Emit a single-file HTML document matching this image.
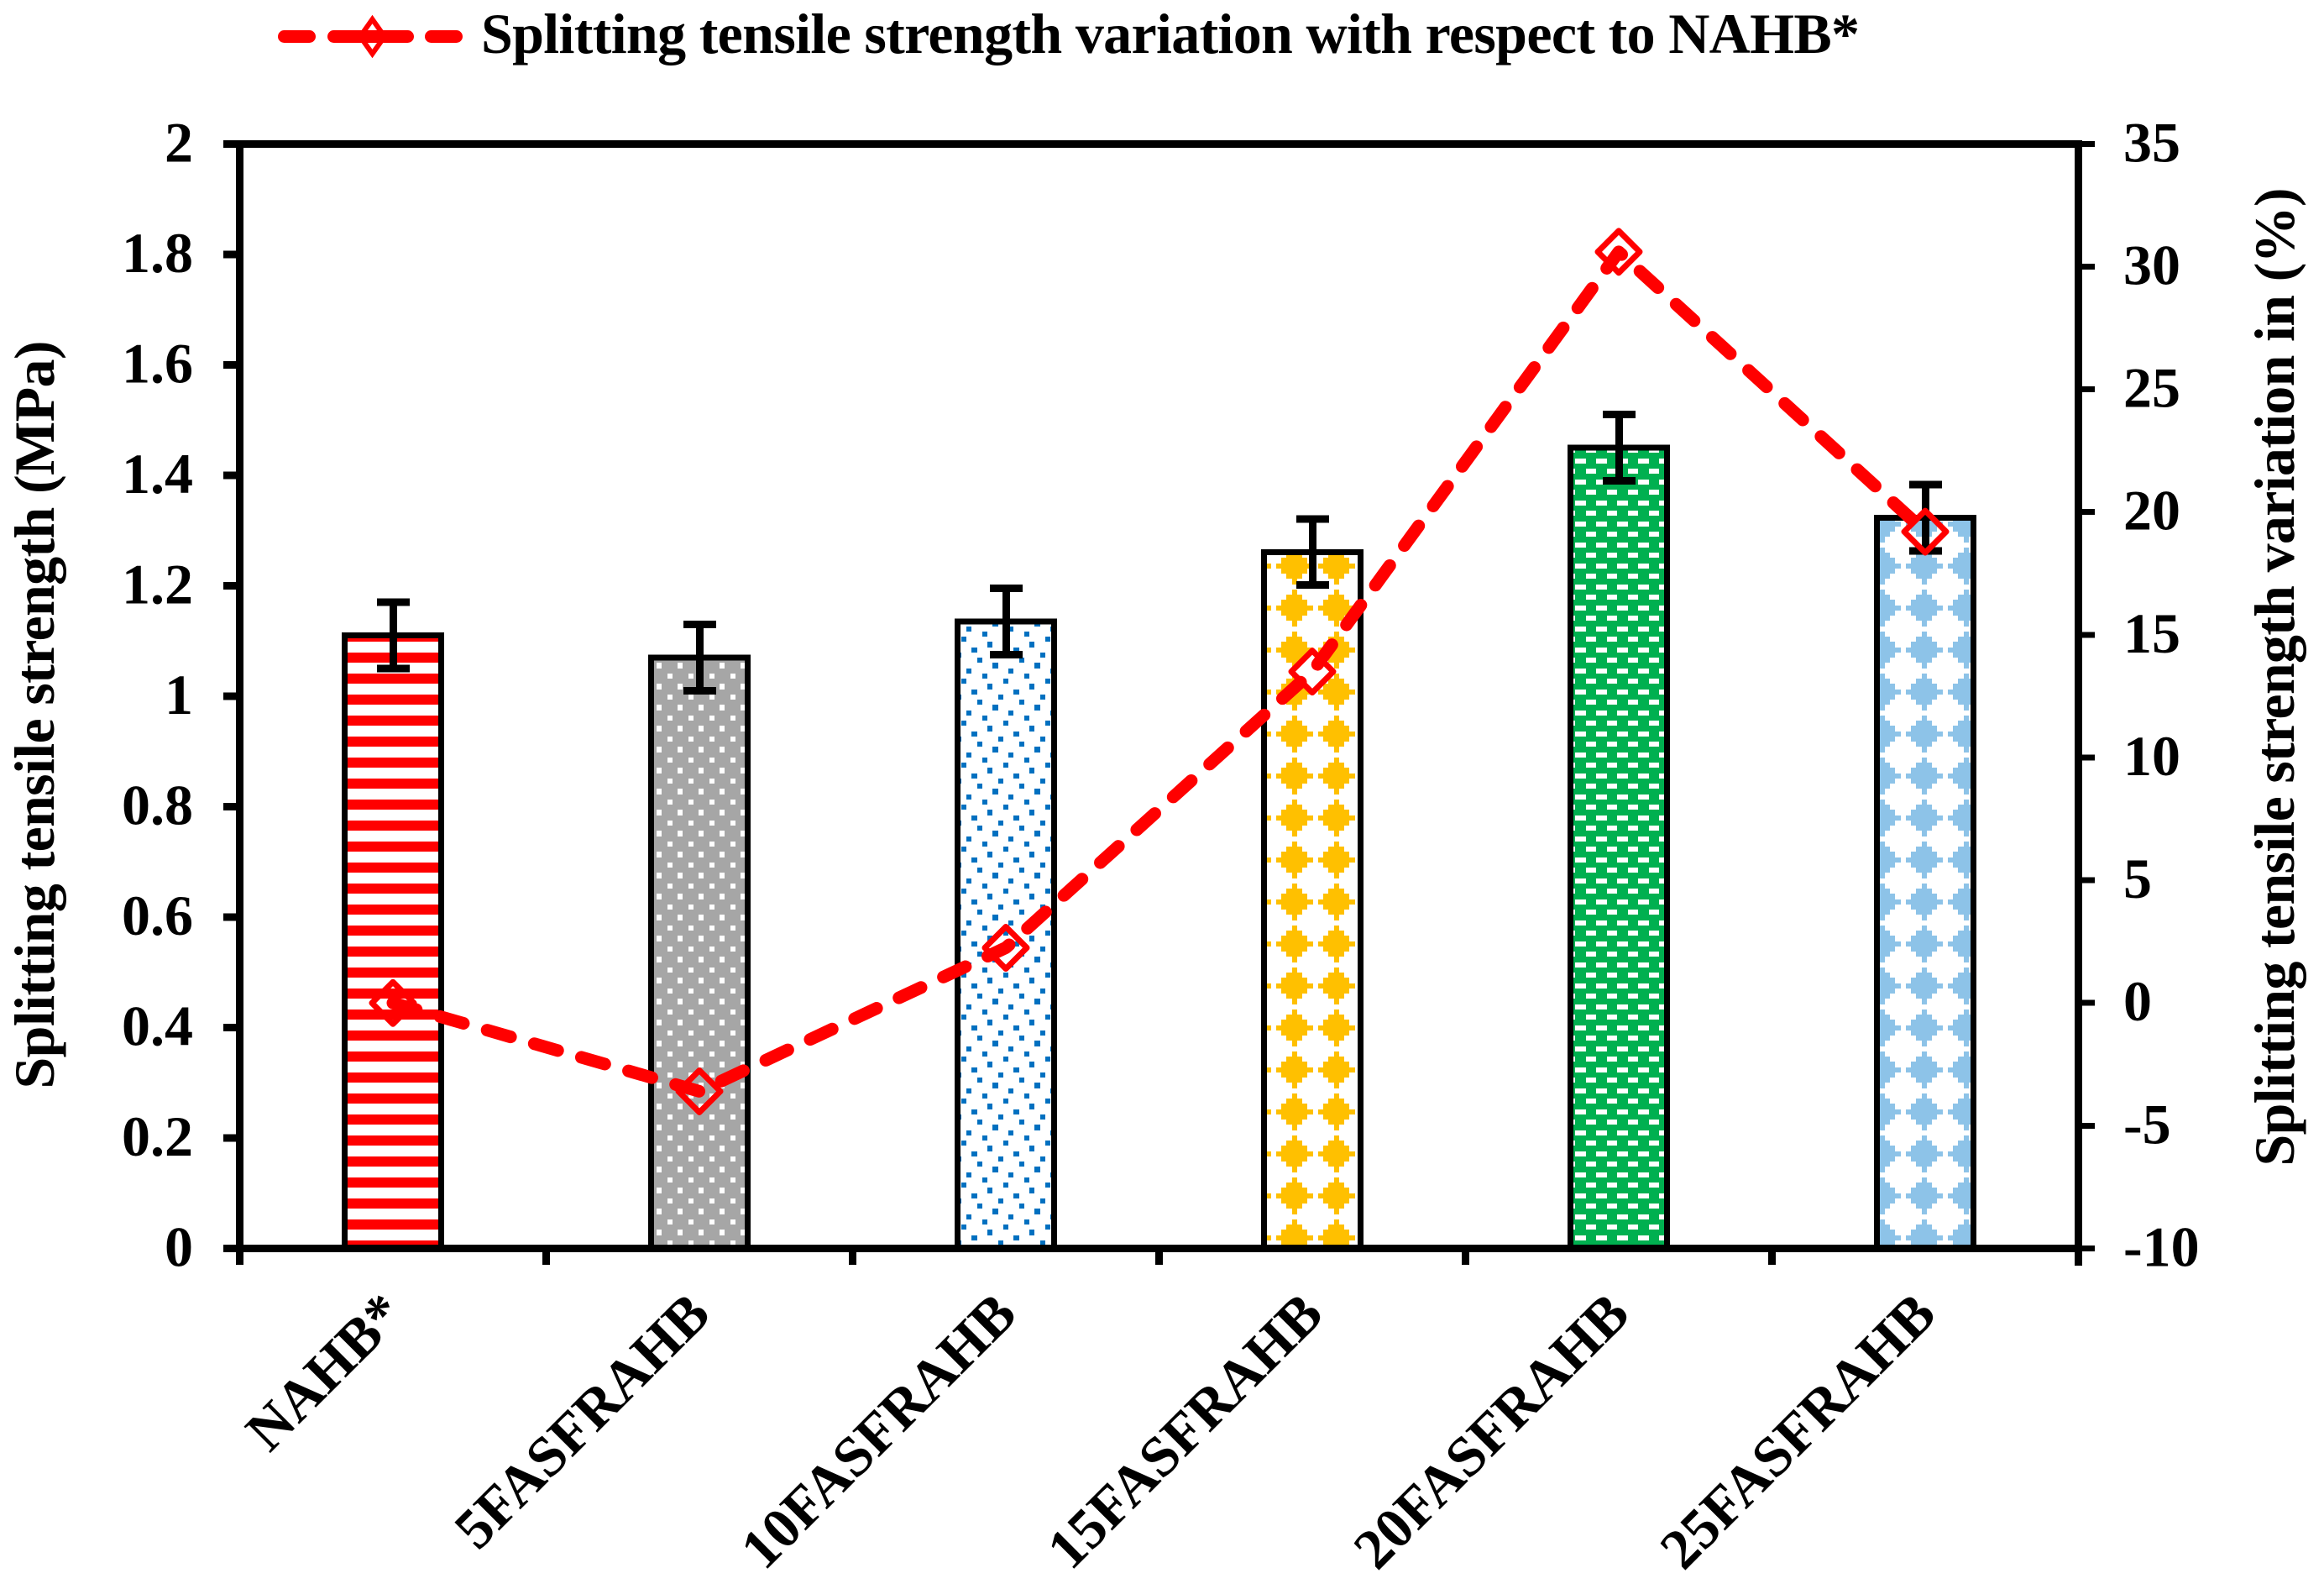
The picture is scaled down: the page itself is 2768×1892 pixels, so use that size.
<!DOCTYPE html>
<html lang="en">
<head>
<meta charset="utf-8">
<title>Splitting tensile strength chart</title>
<style>
html,body{margin:0;padding:0;background:#fff;width:2768px;height:1892px;overflow:hidden}
svg{display:block}
text{font-family:"Liberation Serif","Times New Roman",serif;font-weight:bold;fill:#000}
</style>
</head>
<body>
<svg id="chart" xmlns="http://www.w3.org/2000/svg" width="2768" height="1892" viewBox="0 0 2768 1892">
  <defs>
    <pattern id="p-red" patternUnits="userSpaceOnUse" width="25" height="25">
      <rect width="25" height="25" fill="#fff"/>
      <rect x="0" y="2" width="25" height="12" fill="#ff0000" shape-rendering="crispEdges"/>
    </pattern>
    <pattern id="p-gray" patternUnits="userSpaceOnUse" width="25" height="25">
      <g shape-rendering="crispEdges">
      <rect width="25" height="25" fill="#a6a6a6"/>
      <rect x="20" y="2" width="5" height="6" fill="#fff"/>
      <rect x="0" y="2" width="1" height="6" fill="#fff"/>
      <rect x="7" y="14" width="6" height="7" fill="#fff"/>
      </g>
    </pattern>
    <pattern id="p-blue" patternUnits="userSpaceOnUse" width="50" height="50">
      <g shape-rendering="crispEdges" fill="#0070c0">
      <rect x="1" y="46" width="6" height="4"/><rect x="1" y="0" width="6" height="2"/>
      <rect x="20" y="2" width="6" height="6"/>
      <rect x="45" y="8" width="5" height="6"/><rect x="0" y="8" width="1" height="6"/>
      <rect x="26" y="14" width="6" height="7"/>
      <rect x="7" y="21" width="7" height="6"/>
      <rect x="39" y="27" width="6" height="6"/>
      <rect x="14" y="33" width="6" height="6"/>
      <rect x="32" y="39" width="7" height="7"/>
      </g>
    </pattern>
    <pattern id="p-gold" patternUnits="userSpaceOnUse" width="50" height="50">
      <g shape-rendering="crispEdges" fill="#ffc000">
      <rect x="39" y="2" width="6" height="6"/>
      <rect x="32" y="8" width="18" height="6"/><rect x="0" y="8" width="1" height="6"/>
      <rect x="26" y="14" width="24" height="7"/><rect x="0" y="14" width="7" height="7"/>
      <rect x="20" y="21" width="30" height="6"/><rect x="0" y="21" width="14" height="6"/>
      <rect x="26" y="27" width="24" height="6"/><rect x="0" y="27" width="7" height="6"/>
      <rect x="32" y="33" width="18" height="6"/><rect x="0" y="33" width="1" height="6"/>
      <rect x="39" y="39" width="6" height="7"/>
      </g>
    </pattern>
    <pattern id="p-green" patternUnits="userSpaceOnUse" width="25" height="25">
      <g shape-rendering="crispEdges">
      <rect width="25" height="25" fill="#00b050"/>
      <rect x="1" y="21" width="13" height="4" fill="#fff"/>
      <rect x="1" y="0" width="13" height="2" fill="#fff"/>
      <rect x="14" y="8" width="11" height="6" fill="#fff"/>
      <rect x="0" y="8" width="1" height="6" fill="#fff"/>
      </g>
    </pattern>
    <pattern id="p-sky" patternUnits="userSpaceOnUse" width="50" height="50">
      <g shape-rendering="crispEdges" fill="#8dc3e8">
      <rect x="39" y="2" width="6" height="6"/>
      <rect x="32" y="8" width="18" height="6"/><rect x="0" y="8" width="1" height="6"/>
      <rect x="26" y="14" width="24" height="7"/><rect x="0" y="14" width="7" height="7"/>
      <rect x="20" y="21" width="30" height="6"/><rect x="0" y="21" width="14" height="6"/>
      <rect x="26" y="27" width="24" height="6"/><rect x="0" y="27" width="7" height="6"/>
      <rect x="32" y="33" width="18" height="6"/><rect x="0" y="33" width="1" height="6"/>
      <rect x="39" y="39" width="6" height="7"/>
      </g>
    </pattern>
  </defs>

  <g id="bars"></g>
  <g id="errors"></g>
  <g id="axes" shape-rendering="crispEdges"></g>
  <g id="line"></g>
  <g id="labels"></g>

  <text transform="translate(64,851) rotate(-90)" text-anchor="middle" font-size="68" textLength="891" lengthAdjust="spacing">Splitting tensile strength (MPa)</text>
  <text transform="translate(2732,806) rotate(-90)" text-anchor="middle" font-size="68" textLength="1165" lengthAdjust="spacing">Splitting tensile strength variation in (%)</text>

  <g>
    <line x1="338.5" y1="43.5" x2="544" y2="43.5" stroke="#ff0000" stroke-width="15" stroke-linecap="round" stroke-dasharray="30 29 88 28 30 999"/>
    <path d="M443.5 23 L458 43.5 L443.5 64 L429 43.5 Z" fill="none" stroke="#ff0000" stroke-width="6"/>
    <text x="573" y="63" font-size="68" textLength="1642" lengthAdjust="spacing">Splitting tensile strength variation with respect to NAHB*</text>
  </g>
</svg>
<script>
const categories = ['NAHB*', '5FASFRAHB', '10FASFRAHB', '15FASFRAHB', '20FASFRAHB', '25FASFRAHB'];
const strengthValues = [1.11, 1.07, 1.135, 1.261, 1.45, 1.323];
const strengthErrors = [0.06, 0.06, 0.06, 0.06, 0.06, 0.06];
const variationValues = [0, -3.6, 2.25, 13.5, 30.6, 19.2];
const leftTickLabels = ['0', '0.2', '0.4', '0.6', '0.8', '1', '1.2', '1.4', '1.6', '1.8', '2'];
const rightTickLabels = ['-10', '-5', '0', '5', '10', '15', '20', '25', '30', '35'];
const barPatterns = ['p-red', 'p-gray', 'p-blue', 'p-gold', 'p-green', 'p-sky'];

const NS = 'http://www.w3.org/2000/svg';
const plotLeft = 285.5, plotRight = 2475.5, plotTop = 171.3, plotBottom = 1486.5;
const leftMin = 0, leftMax = 2, rightMin = -10, rightMax = 35;

function xBand(i) { return plotLeft + (plotRight - plotLeft) * (i + 0.5) / categories.length; }
function xEdge(i) { return plotLeft + (plotRight - plotLeft) * i / categories.length; }
function yLeft(v) { return plotBottom - (v - leftMin) / (leftMax - leftMin) * (plotBottom - plotTop); }
function yRight(v) { return plotBottom - (v - rightMin) / (rightMax - rightMin) * (plotBottom - plotTop); }

function make(tag, parent, props, text) {
  const el = document.createElementNS(NS, tag);
  for (const k in props) el.setAttribute(k, props[k]);
  if (text !== undefined) el.textContent = text;
  parent.appendChild(el);
  return el;
}

const barsG = document.getElementById('bars');
const errorsG = document.getElementById('errors');
const axesG = document.getElementById('axes');
const lineG = document.getElementById('line');
const labelsG = document.getElementById('labels');

/* bars */
strengthValues.forEach(function (v, i) {
  const cx = xBand(i);
  const bar = make('rect', barsG, { x: cx - 57.5, y: yLeft(v), width: 115, height: plotBottom - yLeft(v), fill: 'url(#' + barPatterns[i] + ')', stroke: '#000', 'stroke-width': 7, 'shape-rendering': 'crispEdges' });
  
  
});

/* error bars */
strengthValues.forEach(function (v, i) {
  const cx = xBand(i) + 0.5;
  const top = yLeft(v + strengthErrors[i]);
  const bottom = yLeft(v - strengthErrors[i]);
  const eb = make('path', errorsG, { d: 'M' + (cx - 19.5) + ' ' + top + 'H' + (cx + 19.5) + 'M' + cx + ' ' + top + 'V' + bottom + 'M' + (cx - 19.5) + ' ' + bottom + 'H' + (cx + 19.5), fill: 'none', stroke: '#000', 'stroke-width': 9, 'shape-rendering': 'crispEdges' });
  
  
});

/* axes frame */
const frame = make('path', axesG, { d: 'M' + plotLeft + ' ' + (plotTop - 4.5) + 'V' + 1506 + 'M' + plotRight + ' ' + (plotTop - 4.5) + 'V' + 1507 + 'M' + plotLeft + ' ' + plotTop + 'H' + plotRight + 'M' + plotLeft + ' ' + plotBottom + 'H' + plotRight, fill: 'none', stroke: '#000', 'stroke-width': 9 });



/* left ticks and labels */
leftTickLabels.forEach(function (t) {
  const y = yLeft(parseFloat(t));
  const tick = make('line', axesG, { x1: 266, x2: plotLeft, y1: y, y2: y, stroke: '#000', 'stroke-width': 9 });
  
  
  const lab = make('text', labelsG, { x: 230, y: y + 21, 'text-anchor': 'end', 'font-size': 68 }, t);
  
  
});

/* right ticks and labels */
rightTickLabels.forEach(function (t) {
  const y = yRight(parseFloat(t));
  const tick = make('line', axesG, { x1: plotRight, x2: 2495, y1: y, y2: y, stroke: '#000', 'stroke-width': 7 });
  
  
  const lab = make('text', labelsG, { x: 2529, y: y + 21, 'text-anchor': 'start', 'font-size': 68 }, t);
  
  
});

/* category ticks and labels */
categories.forEach(function (c, i) {
  const ex = xEdge(i + 1);
  if (i < categories.length - 1) {
    const tick = make('line', axesG, { x1: ex, x2: ex, y1: plotBottom, y2: 1506, stroke: '#000', 'stroke-width': 9 });
    
    
  }
  const ax = xBand(i) + 16, ay = 1568;
  const lab = make('text', labelsG, { x: ax, y: ay, 'text-anchor': 'end', 'font-size': 68, transform: 'rotate(-45 ' + ax + ' ' + ay + ')' }, c);
  
  
});

/* variation line and markers */
const linePts = variationValues.map(function (v, i) { return xBand(i) + ',' + yRight(v); }).join(' ');
const varLine = make('polyline', lineG, { points: linePts, fill: 'none', stroke: '#ff0000', 'stroke-width': 15, 'stroke-linecap': 'round', 'stroke-linejoin': 'round', 'stroke-dasharray': '29 29.4' });


variationValues.forEach(function (v, i) {
  const cx = xBand(i), cy = yRight(v), r = 25;
  const mk = make('path', lineG, { d: 'M' + cx + ' ' + (cy - r) + 'L' + (cx + r) + ' ' + cy + 'L' + cx + ' ' + (cy + r) + 'L' + (cx - r) + ' ' + cy + 'Z', fill: 'none', stroke: '#ff0000', 'stroke-width': 7, 'stroke-linejoin': 'round' });
  
  
});
</script>
</body>
</html>
